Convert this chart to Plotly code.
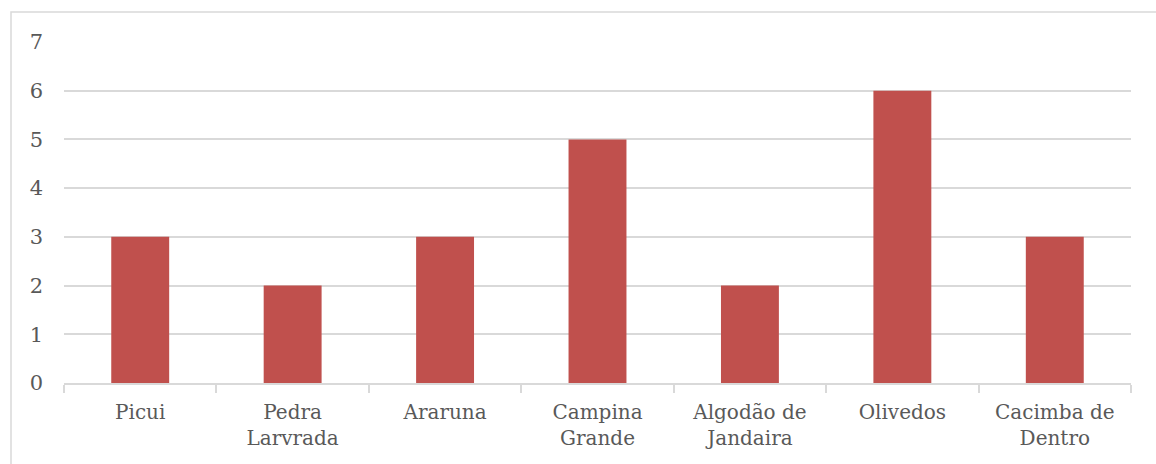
import plotly.graph_objects as go

categories = ["Picui", "Pedra<br>Larvrada", "Araruna", "Campina<br>Grande",
              "Algodão de<br>Jandaira", "Olivedos", "Cacimba de<br>Dentro"]
values = [3, 2, 3, 5, 2, 6, 3]
y_ticks = [0, 1, 2, 3, 4, 5, 6, 7]

font_family = "DejaVu Serif"
text_color = "#595959"
grid_color = "#D9D9D9"

fig = go.Figure(go.Bar(x=categories, y=values, marker=dict(color="#C0504D", line=dict(width=0)),
                       hoverinfo="x+y"))

fig.update_layout(
    width=1156, height=464,
    margin=dict(l=64, r=25, t=42, b=81),
    paper_bgcolor="white", plot_bgcolor="white",
    bargap=0.62,
    showlegend=False,
    font=dict(family=font_family, size=20, color=text_color),
    shapes=[dict(type="rect", xref="paper", yref="paper",
                 x0=(11 - 64) / 1067, x1=1.1, y0=-0.5, y1=1 + (42 - 12) / 341,
                 line=dict(color=grid_color, width=1.5), fillcolor="rgba(0,0,0,0)", layer="below")],
)
fig.update_xaxes(
    showline=True, linecolor=grid_color, linewidth=1.5,
    ticks="outside", tickson="boundaries", ticklen=8, tickcolor=grid_color, tickwidth=1.5,
    showgrid=False, ticklabelstandoff=10,
    tickfont=dict(family=font_family, size=20, color=text_color),
)
fig.update_yaxes(
    range=[0, 7], tickvals=y_ticks, showgrid=True, gridcolor=grid_color, gridwidth=1.5,
    zeroline=False, showline=False, ticks="", ticklabelstandoff=20,
    tickfont=dict(family=font_family, size=21, color=text_color),
)

fig.write_html("out.html")
